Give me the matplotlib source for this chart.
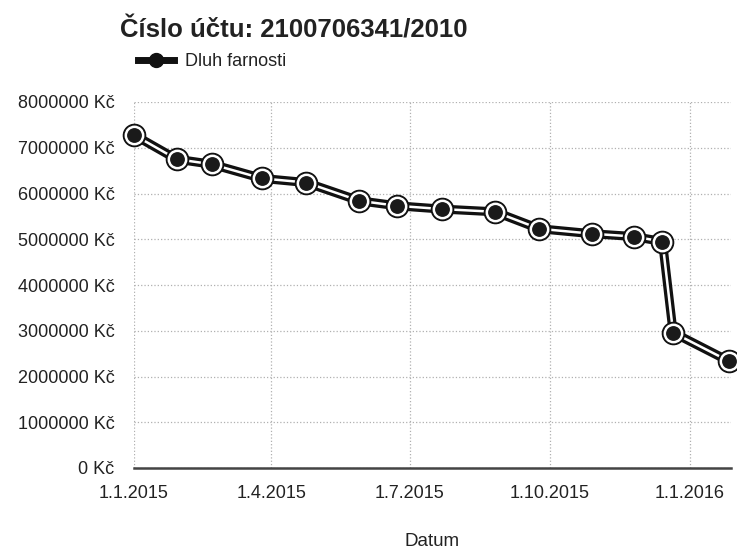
import pandas as pd
import matplotlib.pyplot as plt
from matplotlib.lines import Line2D

plt.rcParams['font.family'] = ['Liberation Sans', 'DejaVu Sans']

# Data
dates = ['2015-01-01', '2015-01-29', '2015-02-21', '2015-03-26', '2015-04-24',
         '2015-05-29', '2015-06-23', '2015-07-22', '2015-08-26', '2015-09-24',
         '2015-10-29', '2015-11-25', '2015-12-14', '2015-12-21', '2016-01-27']
debt = [7280000, 6750000, 6640000, 6330000, 6240000,
        5840000, 5730000, 5660000, 5600000, 5230000,
        5120000, 5060000, 4950000, 2960000, 2330000]

tick_dates = ['2015-01-01', '2015-04-01', '2015-07-01', '2015-10-01', '2016-01-01']
tick_labels = ['1.1.2015', '1.4.2015', '1.7.2015', '1.10.2015', '1.1.2016']
y_ticks = [0, 1000000, 2000000, 3000000, 4000000, 5000000, 6000000, 7000000, 8000000]

x = pd.to_datetime(dates)
text_color = '#222222'

fig = plt.figure(figsize=(7.37, 5.49), dpi=100)
ax = fig.add_axes([134 / 737, 1 - 468 / 549, 597 / 737, 366 / 549])

# line: black with white stripe in the middle
ax.plot(x, debt, color='#111111', lw=6.5, solid_capstyle='round', solid_joinstyle='round', zorder=3)
ax.plot(x, debt, color='white', lw=1.8, solid_joinstyle='round', zorder=4)
# markers: black ring, white ring, dark centre
ax.plot(x, debt, ls='none', marker='o', ms=16, mfc='#111111', mec='#111111', zorder=5, clip_on=False)
ax.plot(x, debt, ls='none', marker='o', ms=12.5, mfc='#1a1a1a', mec='white', mew=1.8, zorder=6, clip_on=False)

ax.set_xlim(pd.Timestamp('2015-01-01'), pd.Timestamp('2016-01-28'))
ax.set_ylim(0, 8000000)

ax.set_xticks(pd.to_datetime(tick_dates))
ax.set_xticklabels(tick_labels)
ax.set_yticks(y_ticks)
ax.set_yticklabels([f'{v} Kč' for v in y_ticks])
ax.tick_params(axis='both', length=0, labelsize=13, labelcolor=text_color)
ax.tick_params(axis='y', pad=14)
ax.tick_params(axis='x', pad=12)

ax.grid(True, color='#b0b0b0', ls=':', lw=0.9)
ax.set_axisbelow(True)
for s in ['top', 'right', 'left']:
    ax.spines[s].set_visible(False)
ax.spines['bottom'].set_color('#444444')
ax.spines['bottom'].set_linewidth(1.8)

fig.text(432 / 737, 1 - 542 / 549, 'Datum', fontsize=13.5, color=text_color,
         ha='center', va='center')

fig.text(120 / 737, 1 - 31 / 549, 'Číslo účtu: 2100706341/2010', fontsize=18.5,
         fontweight='bold', color=text_color, va='center', ha='left')

handle = Line2D([], [], color='#111111', lw=5, marker='o', ms=10)
fig.legend(handles=[handle], labels=['Dluh farnosti'], loc='center left',
           bbox_to_anchor=(122 / 737, 1 - 62 / 549), frameon=False,
           handlelength=2.0, handletextpad=0.6, fontsize=13, labelcolor=text_color)

fig.savefig('out.png', dpi=100)
